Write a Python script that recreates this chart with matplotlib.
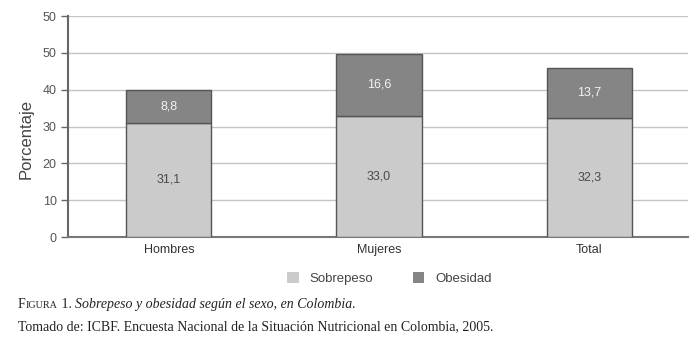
import matplotlib.pyplot as plt
from matplotlib.patches import Patch

plt.rcParams["font.family"] = ["Liberation Sans", "DejaVu Sans"]

# Data
categorias = ["Hombres", "Mujeres", "Total"]
sobrepeso = [31.1, 33.0, 32.3]
obesidad = [8.8, 16.6, 13.7]
ticks_y = [0, 10, 20, 30, 40, 50, 60]
etiquetas_y = ["0", "10", "20", "30", "40", "50", "50"]

c_sob = "#cbcbcb"
c_obe = "#858585"
c_borde = "#555555"

fig = plt.figure(figsize=(7, 3.44), dpi=100)
ax = fig.add_axes([0.097, 0.311, 0.886, 0.642])

x = range(len(categorias))
ax.bar(x, sobrepeso, width=0.405, color=c_sob, edgecolor=c_borde, linewidth=1, zorder=3)
ax.bar(x, obesidad, width=0.405, bottom=sobrepeso, color=c_obe,
       edgecolor=c_borde, linewidth=1, zorder=3)

for i in x:
    ax.text(i, sobrepeso[i] / 2, f"{sobrepeso[i]:.1f}".replace(".", ","),
            ha="center", va="center", fontsize=9, color="#4a4a4a", zorder=4)
    ax.text(i, sobrepeso[i] + obesidad[i] / 2, f"{obesidad[i]:.1f}".replace(".", ","),
            ha="center", va="center", fontsize=9, color="#f4f4f4", zorder=4)

ax.set_xlim(-0.48, 2.47)
ax.set_ylim(0, 60)
ax.set_yticks(ticks_y)
ax.set_yticklabels(etiquetas_y)
ax.set_xticks(list(x))
ax.set_xticklabels(categorias)
ax.tick_params(axis="y", length=5, width=1, color="#666666", labelsize=9,
               labelcolor="#555555", pad=3)
ax.tick_params(axis="x", length=0, labelsize=9, labelcolor="#333333", pad=5)
ax.yaxis.grid(True, color="#c4c4c4", linewidth=1, zorder=0)

for s in ["top", "right"]:
    ax.spines[s].set_visible(False)
ax.spines["left"].set_color("#666666")
ax.spines["left"].set_linewidth(1.5)
ax.spines["bottom"].set_color("#777777")
ax.spines["bottom"].set_linewidth(1.5)

ax.set_ylabel("Porcentaje", fontsize=12, color="#444444")
ax.yaxis.set_label_coords(-0.055, 0.443)

handles = [Patch(facecolor=c_sob, edgecolor="none", label="Sobrepeso"),
           Patch(facecolor=c_obe, edgecolor="none", label="Obesidad")]
fig.legend(handles=handles, loc="center", bbox_to_anchor=(0.556, 0.19), ncol=2,
           frameon=False, fontsize=9.5, handlelength=0.9, handleheight=0.9,
           columnspacing=3, handletextpad=0.8, labelcolor="#444444")

# Caption (small caps "Figura" built from pieces)
serif = "Liberation Serif"
renderer = fig.canvas.get_renderer()
partes = [("F", 10, "normal"), ("IGURA", 7.3, "normal"), (" 1. ", 10, "normal"),
          ("Sobrepeso y obesidad según el sexo, en Colombia.", 10, "italic")]
xpos = 18
for txt, fs, st in partes:
    t = fig.text(xpos / 700, 1 - 308 / 344, txt, fontsize=fs, family=serif,
                 style=st, color="#222222", va="baseline")
    xpos += t.get_window_extent(renderer).width
fig.text(18 / 700, 1 - 330 / 344,
         "Tomado de: ICBF. Encuesta Nacional de la Situación Nutricional en Colombia, 2005.",
         fontsize=10, family=serif, color="#222222", va="baseline")

fig.savefig("out.png", dpi=100)
